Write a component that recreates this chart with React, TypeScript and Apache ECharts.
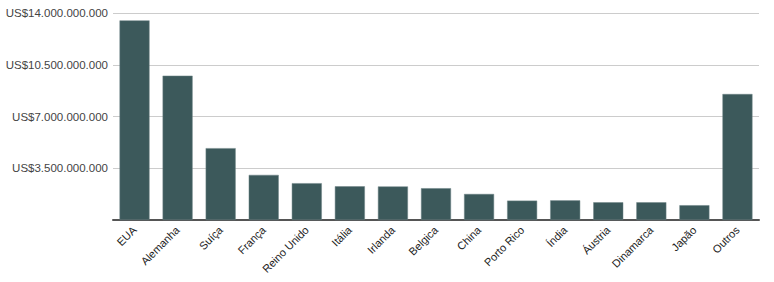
import React, { useEffect, useRef } from "react";
import * as echarts from "echarts";

const categories = [
  "EUA", "Alemanha", "Suíça", "França", "Reino Unido", "Itália", "Irlanda",
  "Belgica", "China", "Porto Rico", "Índia", "Áustria", "Dinamarca", "Japão", "Outros",
];
const values = [
  13.5e9, 9.76e9, 4.86e9, 3.05e9, 2.49e9, 2.28e9, 2.27e9, 2.15e9, 1.76e9,
  1.31e9, 1.33e9, 1.2e9, 1.2e9, 1.0e9, 8.52e9,
];
const yMin = 0;
const yMax = 14e9;
const yInterval = 3.5e9;

function fmt(v: number): string {
  return "US$" + Math.round(v).toString().replace(/\B(?=(\d{3})+(?!\d))/g, ".");
}

export default function App() {
  const ref = useRef<HTMLDivElement>(null);
  useEffect(() => {
    document.body.style.margin = "0";
    const chart = echarts.init(ref.current!, undefined, { renderer: "svg" });
    chart.setOption({
      animation: false,
      grid: { left: 113, right: 15, top: 13, bottom: 62 },
      xAxis: {
        type: "category",
        data: categories,
        axisTick: { show: false },
        axisLine: { lineStyle: { color: "#555", width: 2 } },
        axisLabel: {
          rotate: 45,
          interval: 0,
          fontFamily: "Liberation Sans, Arial, sans-serif",
          fontSize: 11,
          color: "#222",
          margin: 8,
        },
      },
      yAxis: {
        type: "value",
        min: yMin,
        max: yMax,
        interval: yInterval,
        axisLine: { show: false },
        axisTick: { show: false },
        splitLine: { lineStyle: { color: "#cccccc", width: 1 } },
        axisLabel: {
          showMinLabel: false,
          formatter: (v: number) => fmt(v),
          fontFamily: "Liberation Sans, Arial, sans-serif",
          fontSize: 11.5,
          color: "#444",
          margin: 5,
        },
      },
      series: [
        {
          type: "bar",
          data: values,
          barWidth: 30,
          itemStyle: { color: "#3c595b", borderColor: "#6e8587", borderWidth: 0.5 },
        },
      ],
    });
    return () => chart.dispose();
  }, []);
  return <div ref={ref} style={{ width: 774, height: 282 }} />;
}
